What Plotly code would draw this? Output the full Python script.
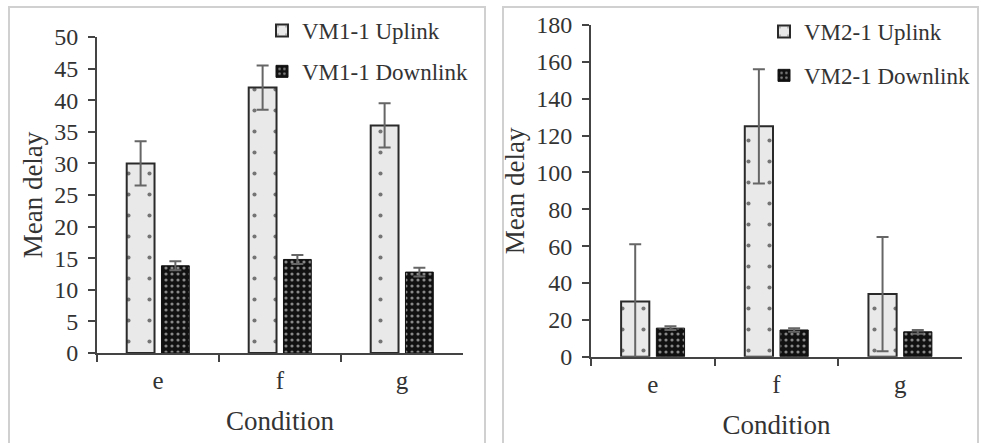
import plotly.graph_objects as go

categories = ["e", "f", "g"]

vm1_up = [30, 42, 36]
vm1_up_err = [3.5, 3.5, 3.5]
vm1_down = [13.8, 14.8, 12.8]
vm1_down_err = [0.7, 0.7, 0.7]

vm2_up = [30, 125, 34]
vm2_up_err = [31, 31, 31]
vm2_down = [15.5, 14.5, 13.5]
vm2_down_err = [1.0, 1.0, 1.0]

y1_ticks = [0, 5, 10, 15, 20, 25, 30, 35, 40, 45, 50]
y2_ticks = [0, 20, 40, 60, 80, 100, 120, 140, 160, 180]

W, H = 981, 443
FONT = "Liberation Serif, Times New Roman, serif"
TXT = "#333333"

up_pattern = dict(shape=".", bgcolor="#e9e9e9", fgcolor="#000000", size=21, solidity=0.03, fillmode="overlay")
down_pattern = dict(shape=".", bgcolor="#111111", fgcolor="#ffffff", size=6, solidity=0.22, fillmode="overlay")

def err(vals):
    return dict(type="data", array=vals, visible=True, color="#666666", thickness=2, width=6)

fig = go.Figure()
fig.add_bar(x=categories, y=vm1_up, name="VM1-1 Uplink", xaxis="x", yaxis="y",
            marker=dict(color="#e9e9e9", pattern=up_pattern, line=dict(color="#2a2a2a", width=2)),
            error_y=err(vm1_up_err), legend="legend", legendgroup="a")
fig.add_bar(x=categories, y=vm1_down, name="VM1-1 Downlink", xaxis="x", yaxis="y",
            marker=dict(color="#111111", pattern=down_pattern, line=dict(color="#111111", width=1)),
            error_y=err(vm1_down_err), legend="legend", legendgroup="b")
fig.add_bar(x=categories, y=vm2_up, name="VM2-1 Uplink", xaxis="x2", yaxis="y2",
            marker=dict(color="#e9e9e9", pattern=up_pattern, line=dict(color="#2a2a2a", width=2)),
            error_y=err(vm2_up_err), legend="legend2", legendgroup="c")
fig.add_bar(x=categories, y=vm2_down, name="VM2-1 Downlink", xaxis="x2", yaxis="y2",
            marker=dict(color="#111111", pattern=down_pattern, line=dict(color="#111111", width=1)),
            error_y=err(vm2_down_err), legend="legend2", legendgroup="d")

def px_x(p):
    return p / W

def px_y(p):
    return 1 - p / H

xaxis_common = dict(
    type="category", showline=True, linecolor="#444444", linewidth=2,
    ticks="outside", tickson="boundaries", ticklen=7, tickwidth=2, tickcolor="#444444",
    tickfont=dict(family=FONT, size=25, color=TXT), showgrid=False, zeroline=False,
    ticklabelstandoff=4,
    title=dict(text="Condition", font=dict(family=FONT, size=27, color=TXT), standoff=18),
    fixedrange=True, automargin=False,
)
yaxis_common = dict(
    showline=True, linecolor="#444444", linewidth=2,
    ticks="outside", ticklen=7, tickwidth=2, tickcolor="#444444",
    tickfont=dict(family=FONT, size=24, color=TXT), showgrid=False, zeroline=False,
    ticklabelstandoff=5, automargin=False,
    title=dict(text="Mean delay", font=dict(family=FONT, size=27, color=TXT), standoff=4),
)

fig.update_layout(
    width=W, height=H,
    margin=dict(l=0, r=0, t=0, b=0, autoexpand=False),
    paper_bgcolor="#ffffff", plot_bgcolor="rgba(0,0,0,0)",
    barmode="group", bargap=0.43, bargroupgap=0.2,
    font=dict(family=FONT, color=TXT),
    xaxis=dict(domain=[px_x(97), px_x(463)], anchor="y", **xaxis_common),
    yaxis=dict(domain=[px_y(353), px_y(37)], anchor="x", range=[0, 50],
               tickvals=y1_ticks, **yaxis_common),
    xaxis2=dict(domain=[px_x(591), px_x(962)], anchor="y2", **xaxis_common),
    yaxis2=dict(domain=[px_y(356.7), px_y(25)], anchor="x2", range=[0, 180],
                tickvals=y2_ticks, **yaxis_common),
    legend=dict(x=px_x(262), y=px_y(9), xanchor="left", yanchor="top",
                bgcolor="rgba(0,0,0,0)", font=dict(family=FONT, size=23, color=TXT),
                tracegroupgap=8, itemclick=False, itemdoubleclick=False),
    legend2=dict(x=px_x(764), y=px_y(10), xanchor="left", yanchor="top",
                 bgcolor="rgba(0,0,0,0)", font=dict(family=FONT, size=23, color=TXT),
                 tracegroupgap=11, itemclick=False, itemdoubleclick=False),
    shapes=[
        dict(type="rect", xref="paper", yref="paper", x0=px_x(9), x1=px_x(485),
             y0=px_y(460), y1=px_y(7), line=dict(color="#d0d0d0", width=2), layer="below"),
        dict(type="rect", xref="paper", yref="paper", x0=px_x(503), x1=px_x(978),
             y0=px_y(460), y1=px_y(7), line=dict(color="#d0d0d0", width=2), layer="below"),
    ],
)

fig.write_html("out.html")
